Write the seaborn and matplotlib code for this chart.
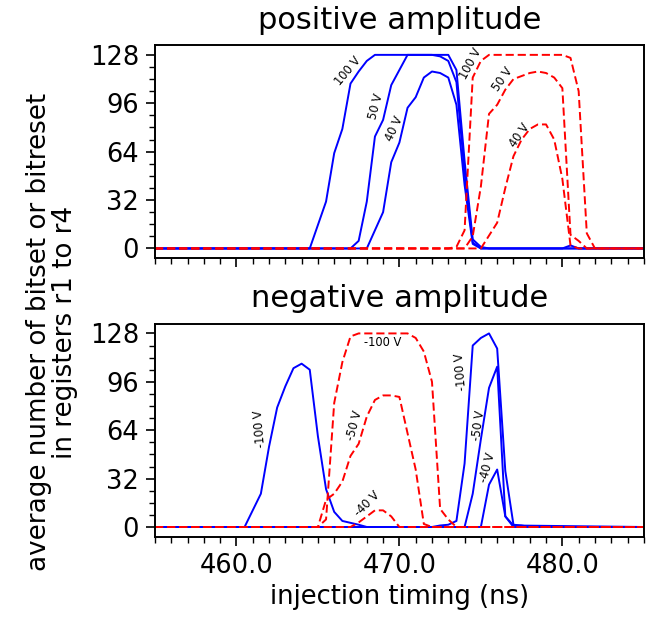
import matplotlib
matplotlib.use("Agg")
import matplotlib.pyplot as plt
from matplotlib.ticker import MultipleLocator, FormatStrFormatter
import seaborn as sns

# positive amplitude, blue = solid, red = dashed
pos_blue_100_x = [455, 464.5, 465.5, 466, 466.5, 467, 467.5, 468, 468.5, 473, 473.5, 474, 474.5, 475, 475.5, 480, 480.5, 481, 485]
pos_blue_100_y = [0, 0, 31, 63, 79, 109, 117, 124, 128, 128, 118, 58, 6, 1, 0, 0, 2, 0, 0]
pos_blue_50_x = [455, 467, 467.5, 468, 468.5, 469, 469.5, 470, 470.5, 472, 472.5, 473, 473.5, 474, 474.5, 475, 485]
pos_blue_50_y = [0, 0, 5, 31, 74, 85, 108, 118, 128, 128, 127, 124, 110, 50, 4, 0, 0]
pos_blue_40_x = [455, 468, 469, 469.5, 470, 470.5, 471, 471.5, 472, 472.5, 473, 473.5, 474, 474.5, 475, 485]
pos_blue_40_y = [0, 0, 24, 57, 70, 93, 100, 113, 117, 116, 113, 95, 42, 3, 0, 0]

pos_red_100_x = [455, 473, 473.5, 474, 474.5, 475, 475.5, 480, 480.5, 481, 481.5, 482, 485]
pos_red_100_y = [0, 0, 1, 12, 113, 124, 128, 128, 126, 104, 10, 0, 0]
pos_red_50_x = [455, 474, 474.5, 475, 475.5, 476, 476.5, 477, 477.5, 478, 478.5, 479, 479.5, 480, 480.5, 481, 481.5, 485]
pos_red_50_y = [0, 0, 8, 41, 89, 95, 105, 112, 114, 116, 117, 116, 113, 106, 9, 5, 0, 0]
pos_red_40_x = [455, 475, 476, 476.5, 477, 477.5, 478, 478.5, 479, 479.5, 480, 480.5, 481, 485]
pos_red_40_y = [0, 0, 17, 40, 61, 72, 79, 82, 82, 72, 46, 2, 0, 0]

# negative amplitude
neg_blue_100_x = [455, 460.5, 461.5, 462, 462.5, 463, 463.5, 464, 464.5, 465, 465.5, 466, 466.5, 467.5, 468,
                  472, 472.5, 473, 473.5, 474, 474.5, 475, 475.5, 476, 476.5, 477, 477.5, 478, 485]
neg_blue_100_y = [0, 0, 22, 53, 79, 93, 105, 108, 104, 60, 25, 10, 4, 1.5, 0,
                  0, 1, 1.5, 4, 42, 120, 125, 128, 118, 37, 1.5, 1, 0, 0]
neg_blue_50_x = [455, 474, 474.5, 475, 475.5, 476, 476.5, 477, 485]
neg_blue_50_y = [0, 0, 22, 58, 92, 106, 7, 1, 0]
neg_blue_40_x = [455, 475, 475.5, 476, 476.5, 477, 485]
neg_blue_40_y = [0, 0, 28, 38, 7, 0, 0]

neg_red_100_x = [455, 465, 465.5, 466, 466.5, 467, 467.5, 470.5, 471, 471.5, 472, 472.5, 473, 473.5, 485]
neg_red_100_y = [0, 0, 5, 82, 109, 126, 128, 128, 125, 116, 96, 12, 5, 0, 0]
neg_red_50_x = [455, 465, 465.5, 466, 466.5, 467, 467.5, 468, 468.5, 469, 469.5, 470, 470.5, 471, 471.5, 472, 485]
neg_red_50_y = [0, 0, 18, 22, 30, 47, 55, 73, 84, 87, 87, 86, 62, 38, 2, 0, 0]
neg_red_40_x = [455, 467, 467.5, 468, 468.5, 469, 469.5, 470, 485]
neg_red_40_y = [0, 0, 3, 7, 11, 11, 7, 0, 0]

# curve labels: (text, x, y, rotation)
pos_labels = [("100 V", 466.85, 117, 50), ("50 V", 468.55, 94, 75), ("40 V", 469.7, 79, 65),
              ("100 V", 474.4, 122, 62), ("50 V", 476.35, 112, 55), ("40 V", 477.35, 75, 55)]
neg_labels = [("-100 V", 461.45, 65, 95), ("-100 V", 473.75, 103, 95), ("-50 V", 474.85, 67, 82),
              ("-40 V", 475.4, 39, 75), ("-100 V", 469.0, 122, 0), ("-50 V", 467.25, 67, 75),
              ("-40 V", 468.05, 15, 45)]

fig = plt.figure(figsize=(6.51, 6.19), dpi=100)
ax1 = fig.add_axes([0.238, 0.583, 0.751, 0.344])
ax2 = fig.add_axes([0.238, 0.133, 0.751, 0.344], sharex=ax1)

lw = 1.4
dash = (4.2, 2.0)
fs = 18.5

def draw(ax, blue, red, labels, title):
    for x, y in blue:
        sns.lineplot(x=x, y=y, ax=ax, color="blue", lw=lw)
    for x, y in red:
        sns.lineplot(x=x, y=y, ax=ax, color="red", lw=lw, linestyle=(0, dash))
    for txt, x, y, rot in labels:
        ax.text(x, y, txt, rotation=rot, ha="center", va="center", fontsize=8.3)
    ax.set_title(title, fontsize=22, pad=12)
    ax.set_xlim(455, 485)
    ax.set_ylim(-6.4, 134.4)
    ax.yaxis.set_major_locator(MultipleLocator(32))
    ax.yaxis.set_minor_locator(MultipleLocator(8))
    ax.xaxis.set_major_locator(MultipleLocator(10))
    ax.xaxis.set_minor_locator(MultipleLocator(1))
    ax.xaxis.set_major_formatter(FormatStrFormatter("%.1f"))
    ax.tick_params(which="major", direction="out", length=6.5, width=1.2, labelsize=fs, pad=5)
    ax.tick_params(which="minor", direction="out", length=4, width=1.0)
    for s in ax.spines.values():
        s.set_linewidth(1.4)
    ax.set_ylabel("")

draw(ax1,
     [(pos_blue_100_x, pos_blue_100_y), (pos_blue_50_x, pos_blue_50_y), (pos_blue_40_x, pos_blue_40_y)],
     [(pos_red_100_x, pos_red_100_y), (pos_red_50_x, pos_red_50_y), (pos_red_40_x, pos_red_40_y)],
     pos_labels, "positive amplitude")
draw(ax2,
     [(neg_blue_100_x, neg_blue_100_y), (neg_blue_50_x, neg_blue_50_y), (neg_blue_40_x, neg_blue_40_y)],
     [(neg_red_100_x, neg_red_100_y), (neg_red_50_x, neg_red_50_y), (neg_red_40_x, neg_red_40_y)],
     neg_labels, "negative amplitude")

ax1.tick_params(labelbottom=False)
ax1.set_xlabel("")
ax2.set_xlabel("injection timing (ns)", fontsize=fs, labelpad=4)

fig.text(0.080, 0.463, "average number of bitset or bitreset\nin registers r1 to r4",
         rotation=90, ha="center", va="center", fontsize=18.8, linespacing=1.0)

fig.savefig("out.png", dpi=100)
